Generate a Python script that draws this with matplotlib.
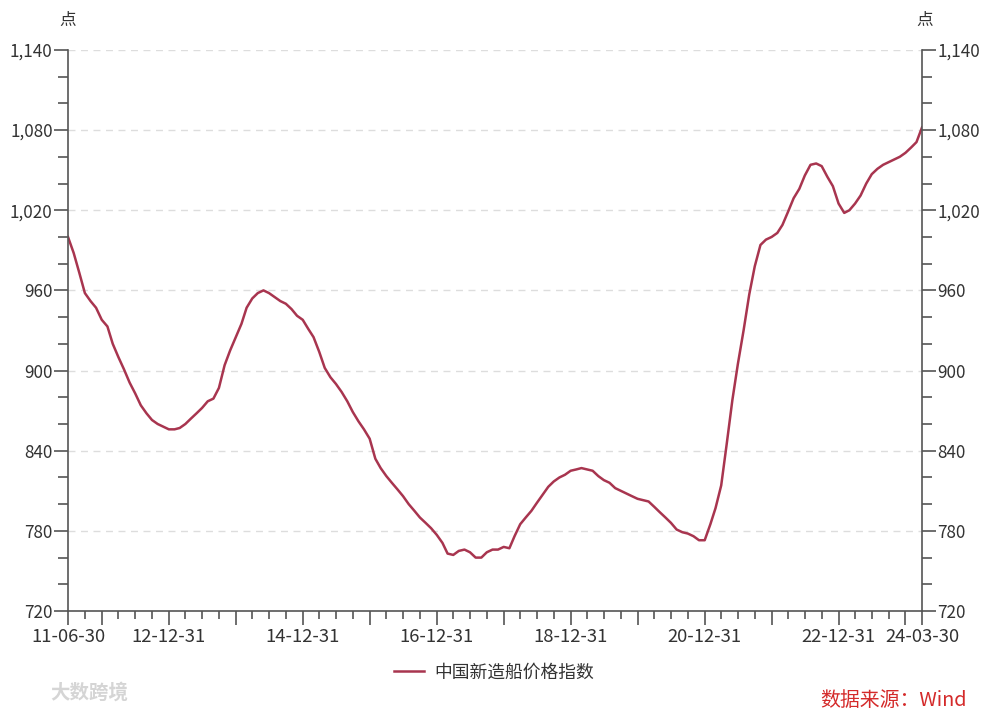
import matplotlib
matplotlib.use("Agg")
import matplotlib.pyplot as plt
from matplotlib.ticker import MultipleLocator, FuncFormatter
import pandas as pd

plt.rcParams['font.family'] = ['Noto Sans CJK SC', 'DejaVu Sans']

# 中国新造船价格指数, 月度, 2011-06 至 2024-03
start = '2011-06-30'
end = '2024-03-30'
index_values = [
    1000, 988, 973, 958, 952, 947, 938, 933, 920, 910,
    901, 891, 883, 874, 868, 863, 860, 858, 856, 856,
    857, 860, 864, 868, 872, 877, 879, 887, 904, 915,
    925, 935, 947, 954, 958, 960, 958, 955, 952, 950,
    946, 941, 938, 931, 925, 914, 902, 895, 890, 884,
    877, 869, 862, 856, 849, 834, 827, 821, 816, 811,
    806, 800, 795, 790, 786, 782, 777, 771, 763, 762,
    765, 766, 764, 760, 760, 764, 766, 766, 768, 767,
    776, 785, 790, 795, 801, 807, 813, 817, 820, 822,
    825, 826, 827, 826, 825, 821, 818, 816, 812, 810,
    808, 806, 804, 803, 802, 798, 794, 790, 786, 781,
    779, 778, 776, 773, 773, 785, 797, 814, 845, 878,
    905, 930, 957, 978, 994, 998, 1000, 1003, 1009, 1019,
    1029, 1036, 1046, 1054, 1055, 1053, 1045, 1038, 1025, 1018,
    1020, 1025, 1031, 1040, 1047, 1051, 1054, 1056, 1058, 1060,
    1063, 1067, 1071, 1082,
]
series_name = '中国新造船价格指数'
labeled_ticks = ['2011-06-30', '2012-12-31', '2014-12-31', '2016-12-31',
                 '2018-12-31', '2020-12-31', '2022-12-31', '2024-03-30']

dates = list(pd.date_range(start, periods=len(index_values) - 1, freq='ME'))
dates.append(pd.Timestamp(end))

line_color = '#A8354F'
axis_color = '#555555'
text_color = '#333333'

fig = plt.figure(figsize=(10, 7.13), dpi=100)
ax = fig.add_axes([0.068, 0.143, 0.854, 0.787])

ax.plot(dates, index_values, color=line_color, lw=1.8, label=series_name)

ax.set_xlim(pd.Timestamp(start), pd.Timestamp(end))
ax.set_ylim(720, 1140)

# y 轴
ax.yaxis.set_major_locator(MultipleLocator(60))
ax.yaxis.set_minor_locator(MultipleLocator(20))
ax.yaxis.set_major_formatter(FuncFormatter(lambda v, p: f'{int(v):,}'))
ax.tick_params(axis='y', which='both', left=True, right=True,
               labelleft=True, labelright=True, colors=axis_color,
               labelcolor=text_color, labelsize=12.3, width=1.2)
ax.tick_params(axis='y', which='major', length=10, pad=1)
ax.tick_params(axis='y', which='minor', length=7)

# x 轴: 年末长刻度, 季度短刻度
year_ends = [pd.Timestamp(f'{y}-12-31') for y in range(2011, 2024)]
major = [pd.Timestamp(start)] + year_ends + [pd.Timestamp(end)]
labels = {pd.Timestamp(d): pd.Timestamp(d).strftime('%y-%m-%d') for d in labeled_ticks}
ax.set_xticks(major)
ax.set_xticklabels([labels.get(d, '') for d in major])
quarters = [d for d in pd.date_range(start, end, freq='QE')]
ax.set_xticks(quarters, minor=True)
ax.tick_params(axis='x', which='major', length=10, width=1.2, colors=axis_color,
               labelcolor=text_color, labelsize=13.3, pad=2)
ax.tick_params(axis='x', which='minor', length=6, width=1.2, colors=axis_color)

ax.spines['top'].set_visible(False)
for side in ['left', 'right', 'bottom']:
    ax.spines[side].set_color(axis_color)
    ax.spines[side].set_linewidth(1.2)

for v in range(780, 1141, 60):
    ax.axhline(v, color='#DDDDDD', lw=1, ls=(0, (5, 4)), zorder=0)

fig.text(0.068, 0.972, '点', ha='center', va='center', fontsize=12, color=text_color)
fig.text(0.925, 0.972, '点', ha='center', va='center', fontsize=12, color=text_color)

fig.legend(loc='center', bbox_to_anchor=(0.494, 0.057), frameon=False,
           fontsize=12.8, handlelength=1.7, handletextpad=0.6, labelcolor=text_color)

fig.text(0.05, 0.028, '大数跨境', ha='left', va='center', fontsize=14,
         color='#D5D5D5', fontweight='bold')
fig.text(0.967, 0.018, '数据来源：Wind', ha='right', va='center',
         fontsize=14.3, color='#D42A2A')

fig.savefig('out.png', dpi=100)
